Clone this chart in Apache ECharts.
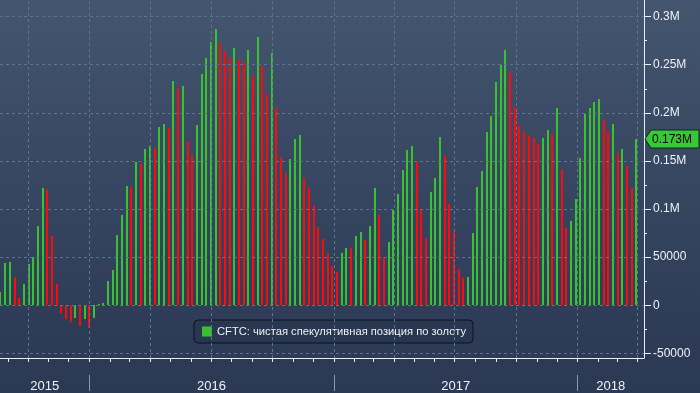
<!DOCTYPE html>
<html><head><meta charset="utf-8">
<script src="https://cdn.jsdelivr.net/npm/echarts@6/dist/echarts.min.js"></script>
<style>
html,body{margin:0;padding:0;width:700px;height:393px;overflow:hidden;
background:linear-gradient(to bottom,#44566f 0%,#3b4b65 30%,#33425d 60%,#2d3b57 85%,#2c3955 100%);}
#c{width:700px;height:393px;}
</style>
</head><body><div id="c"></div>
<script>
// Weekly CFTC report dates (Fridays)
const reportDates = [
 '2015-08-21','2015-08-28','2015-09-04','2015-09-11','2015-09-18','2015-09-25','2015-10-02','2015-10-09','2015-10-16','2015-10-23','2015-10-30',
 '2015-11-06','2015-11-13','2015-11-20','2015-11-27','2015-12-04','2015-12-11','2015-12-18','2015-12-25',
 '2016-01-01','2016-01-08','2016-01-15','2016-01-22','2016-01-29','2016-02-05','2016-02-12','2016-02-19','2016-02-26',
 '2016-03-04','2016-03-11','2016-03-18','2016-03-25','2016-04-01','2016-04-08','2016-04-15','2016-04-22','2016-04-29',
 '2016-05-06','2016-05-13','2016-05-20','2016-05-27','2016-06-03','2016-06-10','2016-06-17','2016-06-24',
 '2016-07-01','2016-07-08','2016-07-15','2016-07-22','2016-07-29','2016-08-05','2016-08-12','2016-08-19','2016-08-26',
 '2016-09-02','2016-09-09','2016-09-16','2016-09-23','2016-09-30','2016-10-07','2016-10-14','2016-10-21','2016-10-28',
 '2016-11-04','2016-11-11','2016-11-18','2016-11-25','2016-12-02','2016-12-09','2016-12-16','2016-12-23','2016-12-30',
 '2017-01-06','2017-01-13','2017-01-20','2017-01-27','2017-02-03','2017-02-10','2017-02-17','2017-02-24',
 '2017-03-03','2017-03-10','2017-03-17','2017-03-24','2017-03-31','2017-04-07','2017-04-14','2017-04-21','2017-04-28',
 '2017-05-05','2017-05-12','2017-05-19','2017-05-26','2017-06-02','2017-06-09','2017-06-16','2017-06-23','2017-06-30',
 '2017-07-07','2017-07-14','2017-07-21','2017-07-28','2017-08-04','2017-08-11','2017-08-18','2017-08-25',
 '2017-09-01','2017-09-08','2017-09-15','2017-09-22','2017-09-29','2017-10-06','2017-10-13','2017-10-20','2017-10-27',
 '2017-11-03','2017-11-10','2017-11-17','2017-11-24','2017-12-01','2017-12-08','2017-12-15','2017-12-22','2017-12-29',
 '2018-01-05','2018-01-12','2018-01-19','2018-01-26','2018-02-02','2018-02-09','2018-02-16','2018-02-23',
 '2018-03-02','2018-03-09','2018-03-16','2018-03-23','2018-03-30'
];
// Net speculative position (contracts)
const netPosition = [
 13400,44400,44600,28900,7200,21700,42400,50600,82700,121900,120900,72300,21700,-8300,-14500,-17600,-13400,-21700,-14500,
 -23800,-13400,1300,2000,24800,36200,73400,94000,124000,123000,148800,146700,162200,165300,164300,185000,188100,184500,
 233500,226300,228400,169500,156000,187000,240800,257300,273800,287300,271800,264500,257300,267600,256300,254200,265600,
 238700,279000,249000,219100,262500,205600,154000,137400,151900,172600,176700,132300,121900,103300,81600,69200,54800,41300,
 35100,54800,59900,59500,72300,76500,68200,82700,121900,94000,50600,66100,99200,115700,140500,161200,165300,148800,
 100200,70300,117800,132300,174600,155000,105400,77500,38200,27900,28900,75400,123000,139500,179800,196300,232500,
 250100,265600,242800,204600,186000,180800,175700,173600,167400,173800,181900,177700,204600,140500,80600,87800,110600,
 152900,198400,204600,211800,214900,192200,179800,188100,158100,162200,145700,121900,173000
];
const seriesName = 'CFTC: чистая спекулятивная позиция по золоту';
const yLabelValues = [-50000,0,50000,100000,150000,200000,250000,300000];
const yTickValues = [-50000,-25000,0,25000,50000,75000,100000,125000,150000,175000,200000,225000,250000,275000,300000];
const quarterStarts = ['2015-10-01','2016-01-01','2016-04-01','2016-07-01','2016-10-01','2017-01-01','2017-04-01','2017-07-01','2017-10-01','2018-01-01','2018-04-01'];
const yearStarts = ['2016-01-01','2017-01-01','2018-01-01'];
const axisRange = ['2015-08-20 07:00','2018-04-10 10:00'];
const yRange = [-54800, 317300];

const GREEN = '#38c22f', RED = '#ff0a0a';

function ts(s){
  const [d,t] = s.split(' ');
  const [y,m,dd] = d.split('-').map(Number);
  let h=0,mi=0; if(t){[h,mi]=t.split(':').map(Number);}
  return new Date(y,m-1,dd,h,mi).getTime();
}
const tMin = ts(axisRange[0]), tMax = ts(axisRange[1]);
const monthTicks = [];
{
  const a = new Date(tMin); let y=a.getFullYear(), m=a.getMonth()+1;
  while (true){ const t=new Date(y,m,1).getTime(); if(t>tMax) break; monthTicks.push(t); m++; }
}
const yearTs = yearStarts.map(ts);
const bounds = [tMin, ...yearTs, tMax];
const yearMids = [];
for (let i=0;i<bounds.length-1;i++) yearMids.push((bounds[i]+bounds[i+1])/2);

// third dimension: 1 if rose vs previous week (green), 0 if fell (red)
const barData = netPosition.map((v,i)=>[ts(reportDates[i]), v, (i===0 || v>=netPosition[i-1]) ? 1 : 0]);

const gridLineData = quarterStarts.map(d=>({xAxis: ts(d)})).concat(yLabelValues.map(v=>({yAxis:v})));

const FONT = 'Liberation Sans, Arial, sans-serif';
const AX = '#e8edf3';
const chart = echarts.init(document.getElementById('c'));
chart.setOption({
  animation:false,
  backgroundColor:'transparent',
  textStyle:{fontFamily:FONT},
  grid:{left:0,right:56,top:0,bottom:33,containLabel:false},
  legend:{
    data:[seriesName], left:194, top:320, itemWidth:10, itemHeight:10, icon:'rect',
    padding:[6,7,6,8], backgroundColor:'rgba(28,38,58,0.25)', borderColor:'#0d1320', borderWidth:1, borderRadius:4,
    textStyle:{color:'#eef2f6', fontSize:11.2, fontFamily:FONT}, selectedMode:false
  },
  xAxis:[
    {type:'value', min:tMin, max:tMax, position:'bottom',
     axisLine:{show:true, onZero:false, lineStyle:{color:AX,width:1}},
     axisTick:{show:true, customValues:monthTicks, length:4, lineStyle:{color:AX}},
     axisLabel:{show:false}, splitLine:{show:false}},
    {type:'value', min:tMin, max:tMax, position:'bottom', offset:17,
     axisLine:{show:false, onZero:false},
     axisTick:{show:true, customValues:yearTs, length:16, lineStyle:{color:'#8c97a8'}},
     axisLabel:{show:true, customValues:yearMids, margin:5, color:'#eef2f6', fontSize:13, fontFamily:FONT,
       formatter:v=>String(new Date(v).getFullYear())},
     splitLine:{show:false}}
  ],
  yAxis:[
    {type:'value', position:'right', min:yRange[0], max:yRange[1],
     axisLine:{show:true, lineStyle:{color:AX}},
     axisTick:{show:true, customValues:yTickValues, length:3, lineStyle:{color:AX}},
     axisLabel:{show:true, customValues:yLabelValues, margin:9, color:'#eef2f6', fontSize:12, fontFamily:FONT,
       formatter:v=> v===0 ? '0' : (Math.abs(v)>=100000 ? (v/1e6)+'M' : String(v))},
     splitLine:{show:false}},
    {type:'value', position:'right', min:yRange[0], max:yRange[1],
     axisLine:{show:false},
     axisTick:{show:true, customValues:yLabelValues, length:7, lineStyle:{color:AX}},
     axisLabel:{show:false}, splitLine:{show:false}}
  ],
  series:[
    {type:'line', name:'grid', data:[], z:1, silent:true, xAxisIndex:0, yAxisIndex:0,
     markLine:{silent:true, symbol:'none', label:{show:false}, animation:false,
       lineStyle:{type:[3,3], color:'#5a7593', width:1}, data:gridLineData}},
    {type:'custom', name:seriesName, xAxisIndex:0, yAxisIndex:0, z:3, clip:true,
     itemStyle:{color:GREEN}, data:barData, encode:{x:0, y:1},
     renderItem:(params, api)=>{
       const p = api.coord([api.value(0), api.value(1)]);
       const p0 = api.coord([api.value(0), 0]);
       const left = Math.round(p[0]) - 1;
       const top = Math.round(Math.min(p[1], p0[1]));
       const bot = Math.round(Math.max(p[1], p0[1]));
       return {type:'rect', shape:{x:left, y:top, width:2, height:Math.max(1, bot-top)},
               style:{fill: api.value(2) ? GREEN : RED}};
     }}
  ]
});

const last = netPosition[netPosition.length-1];
const py = Math.round(chart.convertToPixel({yAxisIndex:0}, last));
const px = Math.round(chart.convertToPixel({xAxisIndex:0}, tMax));
chart.setOption({graphic:[
  {type:'polygon', z:100, shape:{points:[[px+1,py],[px+7,py-9],[px+55,py-9],[px+55,py+9],[px+7,py+9]]},
   style:{fill:'#36c936', stroke:'#0f2a12', lineWidth:1}},
  {type:'text', z:101, x:px+8, y:py+1, style:{text:(last/1e6).toFixed(3)+'M', fill:'#000', font:'12px '+FONT, verticalAlign:'middle'}}
]});
</script></body></html>
